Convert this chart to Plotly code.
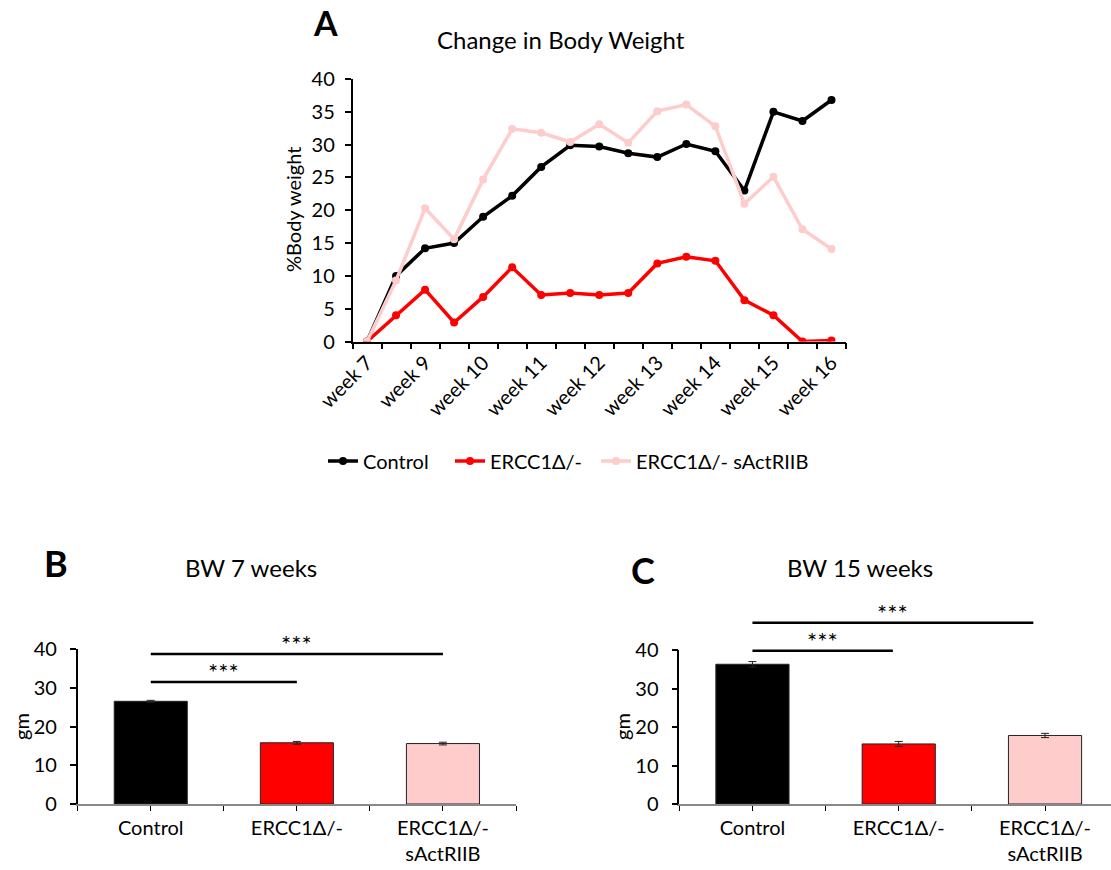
import plotly.graph_objects as go

FONT = "Lato"

# ---------------- data ----------------
weeks_idx = list(range(17))
week_tick_idx = [0, 2, 4, 6, 8, 10, 12, 14, 16]
week_tick_labels = ["week 7", "week 9", "week 10", "week 11", "week 12",
                    "week 13", "week 14", "week 15", "week 16"]

control = [0, 10.0, 14.2, 15.0, 19.0, 22.2, 26.6, 29.9, 29.7, 28.7, 28.1,
           30.1, 29.0, 23.0, 35.0, 33.6, 36.8]
ercc1 = [0, 4.0, 7.9, 2.9, 6.8, 11.3, 7.1, 7.4, 7.1, 7.4, 11.9,
         12.9, 12.3, 6.3, 4.0, 0, 0.15]
ercc1_sact = [0, 9.3, 20.3, 15.6, 24.7, 32.4, 31.8, 30.4, 33.1, 30.3, 35.1,
              36.1, 32.8, 21.0, 25.1, 17.1, 14.1]

bar_cats = ["Control", "ERCC1Δ/-", "ERCC1Δ/-<br>sActRIIB"]
bw7 = [26.5, 15.8, 15.6]
bw7_err = [0.25, 0.35, 0.35]
bw15 = [36.3, 15.6, 17.8]
bw15_err = [0.7, 0.65, 0.55]

# significance brackets: (x0, x1, y, label)
sig_b = [(0, 1, 31.5, "***"), (0, 2, 38.7, "***")]
sig_c = [(0, 0.96, 39.8, "***"), (0, 1.92, 47.1, "***")]

# ---------------- colors ----------------
C_BLACK = "#000000"
C_RED = "#FF0000"
C_PINK = "#FFCCCC"
bar_colors = [C_BLACK, C_RED, C_PINK]

W, H = 1111, 870

def px_x(p):
    return p / W

def px_y(p):
    return 1 - p / H

domA_x = [px_x(352.5), px_x(846)]
domA_y = [px_y(341.5), px_y(79)]
domB_x = [px_x(77.7), px_x(516)]
domB_y = [px_y(804), px_y(649)]
domC_x = [px_x(679.3), 1.0]
domC_y = [px_y(804), px_y(650)]

fig = go.Figure()

series = [("Control", control, C_BLACK, "legend", 323),
          ("ERCC1Δ/-", ercc1, C_RED, "legend2", 450),
          ("ERCC1Δ/- sActRIIB", ercc1_sact, C_PINK, "legend3", 596)]

for name, ys, col, leg, _ in series:
    fig.add_trace(go.Scatter(
        x=weeks_idx, y=ys, name=name, mode="lines+markers",
        line=dict(color=col, width=3.5), marker=dict(color=col, size=8),
        xaxis="x", yaxis="y", showlegend=True, legend=leg,
    ))

fig.add_trace(go.Bar(
    x=[0, 1, 2], y=bw7, xaxis="x2", yaxis="y2", showlegend=False,
    marker=dict(color=bar_colors, line=dict(color="#222222", width=1)),
    width=0.5,
    error_y=dict(type="data", array=bw7_err, color="#222222", thickness=1, width=4),
))
fig.add_trace(go.Bar(
    x=[0, 1, 2], y=bw15, xaxis="x3", yaxis="y3", showlegend=False,
    marker=dict(color=bar_colors, line=dict(color="#222222", width=1)),
    width=0.5,
    error_y=dict(type="data", array=bw15_err, color="#222222", thickness=1, width=4),
))

tickfont = dict(family=FONT, size=20, color="#000000")

common_y = dict(ticks="outside", ticklen=6, tickcolor="#000000", tickwidth=1.5,
                tickfont=tickfont, showline=True, linecolor="#000000", linewidth=1.5,
                showgrid=False, zeroline=False, automargin=False)

legend_common = dict(orientation="h", xanchor="left", yanchor="middle",
                     font=dict(family=FONT, size=20, color="#000000"),
                     bgcolor="rgba(0,0,0,0)", itemwidth=30, tracegroupgap=0)

fig.update_layout(
    width=W, height=H,
    margin=dict(l=0, r=0, t=0, b=0),
    paper_bgcolor="white", plot_bgcolor="white",
    font=dict(family=FONT, color="#000000"),
    xaxis=dict(
        domain=domA_x, anchor="y", range=[-0.5, 16.5],
        tickmode="array", tickvals=week_tick_idx, ticktext=week_tick_labels,
        ticks="", tickangle=-45, tickfont=tickfont,
        showline=True, linecolor="#000000", linewidth=1.5,
        showgrid=False, zeroline=False, automargin=False,
        minor=dict(tickmode="array", tickvals=[i - 0.5 for i in range(18)],
                   ticks="outside", ticklen=6, tickcolor="#000000", tickwidth=1.5),
    ),
    yaxis=dict(domain=domA_y, anchor="x", range=[0, 40],
               tickvals=[0, 5, 10, 15, 20, 25, 30, 35, 40],
               ticklabelstandoff=6, **common_y),
    xaxis2=dict(
        domain=domB_x, anchor="y2", range=[-0.5, 2.5],
        tickmode="array", tickvals=[-0.5, 0, 0.5, 1, 1.5, 2, 2.5],
        ticktext=["", bar_cats[0], "", bar_cats[1], "", bar_cats[2], ""],
        ticks="outside", ticklen=5, tickcolor="#000000", tickfont=tickfont,
        showline=True, linecolor="#888888", linewidth=1.5,
        showgrid=False, zeroline=False, automargin=False,
    ),
    yaxis2=dict(domain=domB_y, anchor="x2", range=[0, 40],
                tickvals=[0, 10, 20, 30, 40], ticklabelstandoff=9, **common_y),
    xaxis3=dict(
        domain=domC_x, anchor="y3", range=[-0.5, 2.451],
        tickmode="array", tickvals=[-0.5, 0, 0.5, 1, 1.5, 2],
        ticktext=["", bar_cats[0], "", bar_cats[1], "", bar_cats[2]],
        ticks="outside", ticklen=5, tickcolor="#000000", tickfont=tickfont,
        showline=True, linecolor="#888888", linewidth=1.5,
        showgrid=False, zeroline=False, automargin=False,
    ),
    yaxis3=dict(domain=domC_y, anchor="x3", range=[0, 40],
                tickvals=[0, 10, 20, 30, 40], ticklabelstandoff=9, **common_y),
    legend=dict(x=px_x(series[0][4]), y=px_y(461), **legend_common),
    legend2=dict(x=px_x(series[1][4]), y=px_y(461), **legend_common),
    legend3=dict(x=px_x(series[2][4]), y=px_y(461), **legend_common),
    bargap=0.5,
)

# significance brackets
def val_to_paper(v, dom, rng=(0, 40)):
    return dom[0] + (v - rng[0]) / (rng[1] - rng[0]) * (dom[1] - dom[0])

for xref, dom, sigs in [("x2", domB_y, sig_b), ("x3", domC_y, sig_c)]:
    for x0, x1, yv, lab in sigs:
        yp = val_to_paper(yv, dom)
        fig.add_shape(type="line", xref=xref, yref="paper", x0=x0, x1=x1,
                      y0=yp, y1=yp, line=dict(color="#000000", width=2.5))
        fig.add_annotation(xref=xref, yref="paper", x=(x0 + x1) / 2, y=yp,
                           text=lab, showarrow=False, yanchor="bottom",
                           yshift=-6, font=dict(family=FONT, size=24, color="#000000"))

annots = [
    ("A", 326, 22, 34, True),
    ("B", 56, 563, 36, True),
    ("C", 643, 570, 36, True),
    ("Change in Body Weight", 561, 40, 24, False),
    ("BW 7 weeks", 251, 567, 24, False),
    ("BW 15 weeks", 860, 567, 24, False),
]
for txt, xp, yp, sz, bold in annots:
    fig.add_annotation(xref="paper", yref="paper", x=px_x(xp), y=px_y(yp),
                       text=f"<b>{txt}</b>" if bold else txt, showarrow=False,
                       xanchor="center", yanchor="middle",
                       font=dict(family=FONT, size=sz, color="#000000"))

for txt, xp, yp in [("%Body weight", 293, 210), ("gm", 21, 727), ("gm", 622, 727)]:
    fig.add_annotation(xref="paper", yref="paper", x=px_x(xp), y=px_y(yp),
                       text=txt, showarrow=False, textangle=-90,
                       xanchor="center", yanchor="middle",
                       font=dict(family=FONT, size=20, color="#000000"))

fig.write_html("out.html")
